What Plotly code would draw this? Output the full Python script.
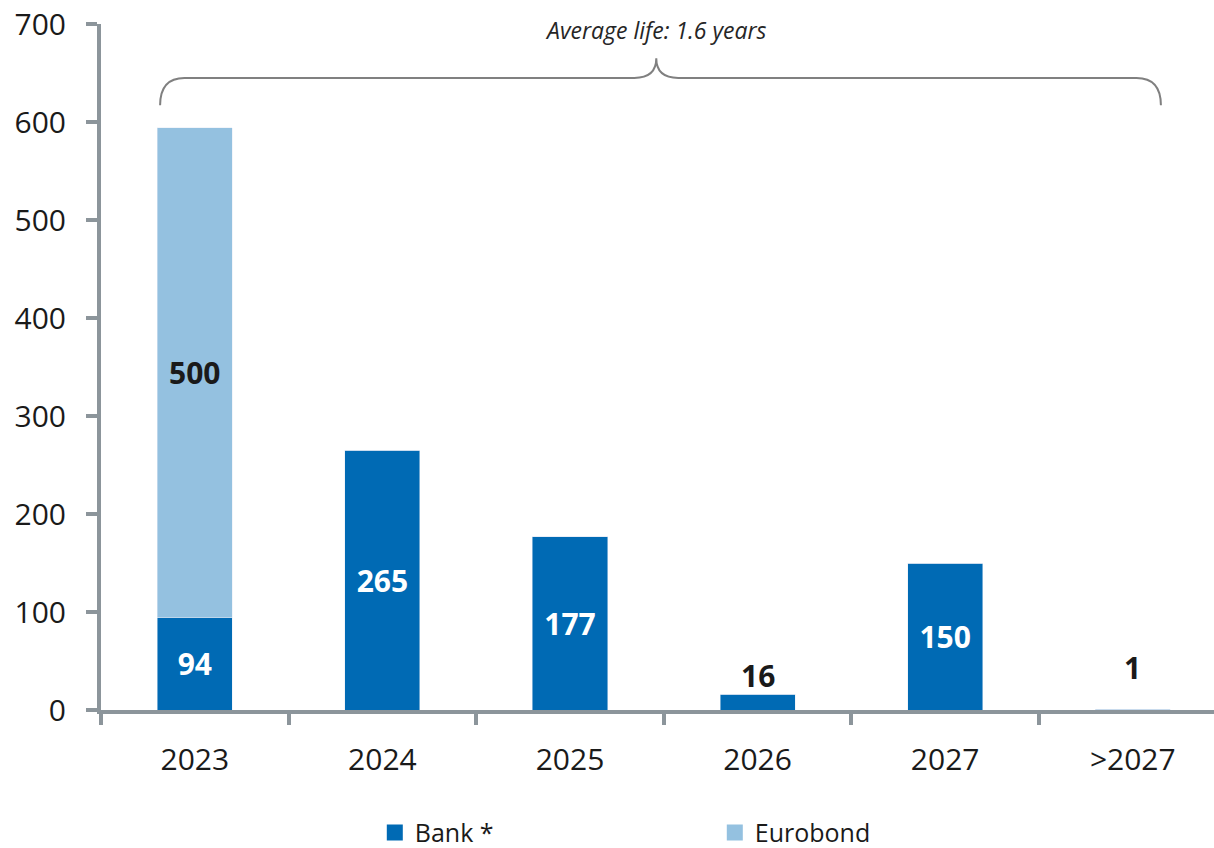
import plotly.graph_objects as go

# Debt maturity profile (EUR m)
categories = ["2023", "2024", "2025", "2026", "2027", ">2027"]
bank = [94, 265, 177, 16, 150, 1]
eurobond = [500, 0, 0, 0, 0, 0]
y_ticks = [0, 100, 200, 300, 400, 500, 600, 700]

BANK_COLOR = "#006ab4"
EURO_COLOR = "#94c1e0"
AXIS_COLOR = "#8c959b"
TEXT_COLOR = "#1a1a1a"
FONT = "Open Sans"

# Inside labels for tall bars, labels above for small ones
inside_min = 50
bank_text = [str(v) if v >= inside_min else "" for v in bank]
euro_text = [str(v) if v > 0 else "" for v in eurobond]

fig = go.Figure()
fig.add_trace(go.Bar(
    x=categories, y=bank, name="Bank *", marker_color=BANK_COLOR,
    width=0.4, text=bank_text, textposition="inside", insidetextanchor="middle",
    textfont=dict(family=FONT, size=30, color="white", weight="bold"),
    textangle=0, showlegend=False,
))
fig.add_trace(go.Bar(
    x=categories, y=eurobond, name="Eurobond", marker_color=EURO_COLOR,
    width=0.4, text=euro_text, textposition="inside", insidetextanchor="middle",
    textfont=dict(family=FONT, size=30, color=TEXT_COLOR, weight="bold"),
    textangle=0, showlegend=False,
))

# Legend entries with larger square swatches
for name, color in [("Bank *", BANK_COLOR), ("Eurobond", EURO_COLOR)]:
    fig.add_trace(go.Scatter(
        x=[None], y=[None], mode="markers", name=name,
        marker=dict(symbol="square", size=17, color=color),
    ))

# Value labels placed above the short bars
above_shift = {"2026": -4, ">2027": 19}
for i, (cat, b, e) in enumerate(zip(categories, bank, eurobond)):
    if b < inside_min and e == 0:
        fig.add_annotation(
            x=i, y=b, text=f"<b>{b}</b>", showarrow=False,
            yanchor="bottom", yshift=above_shift.get(cat, 0),
            font=dict(family=FONT, size=30, color=TEXT_COLOR),
        )

# Brace spanning all maturities, with its caption
X0, X1 = -0.5, 5.433
Y_MAX = 700


def px(xc):
    return (xc - X0) / (X1 - X0)


def py(yv):
    return yv / Y_MAX


left, right, mid = -0.185, 5.15, 2.46
y_base, y_line, y_peak = 617, 645, 665
r = 0.13
path = (
    f"M {px(left)},{py(y_base)} "
    f"Q {px(left)},{py(y_line)} {px(left + r)},{py(y_line)} "
    f"L {px(mid - r * 0.9)},{py(y_line)} "
    f"Q {px(mid)},{py(y_line)} {px(mid)},{py(y_peak)} "
    f"Q {px(mid)},{py(y_line)} {px(mid + r * 0.9)},{py(y_line)} "
    f"L {px(right - r)},{py(y_line)} "
    f"Q {px(right)},{py(y_line)} {px(right)},{py(y_base)}"
)
fig.add_shape(type="path", path=path, xref="paper", yref="paper",
              line=dict(color="#808080", width=2))
fig.add_annotation(
    x=px(mid), y=py(694), xref="paper", yref="paper",
    xanchor="center", yanchor="middle",
    text="<i>Average life: 1.6 years</i>", showarrow=False,
    font=dict(family=FONT, size=23, color="#262626"),
)

fig.update_layout(
    barmode="stack",
    width=1214, height=848,
    margin=dict(l=101, r=0, t=24, b=138, autoexpand=False),
    plot_bgcolor="white", paper_bgcolor="white",
    font=dict(family=FONT, size=30, color=TEXT_COLOR),
    showlegend=True,
    legend=dict(
        orientation="h", x=0.246, xanchor="left", y=-0.179, yanchor="middle",
        font=dict(family=FONT, size=25, color=TEXT_COLOR),
        entrywidth=295, entrywidthmode="pixels", itemwidth=30,
        traceorder="normal",
    ),
    xaxis=dict(
        type="category", range=[X0, X1],
        showline=True, linecolor=AXIS_COLOR, linewidth=4,
        ticks="outside", tickson="boundaries", ticklen=11, tickwidth=4,
        tickcolor=AXIS_COLOR, showgrid=False, ticklabelstandoff=20,
        tickfont=dict(family=FONT, size=30, color=TEXT_COLOR),
    ),
    yaxis=dict(
        range=[0, Y_MAX], tickvals=y_ticks,
        showline=True, linecolor=AXIS_COLOR, linewidth=4,
        ticks="outside", ticklen=11, tickwidth=4, tickcolor=AXIS_COLOR,
        showgrid=False, zeroline=False, ticklabelstandoff=14,
        tickfont=dict(family=FONT, size=30, color=TEXT_COLOR),
    ),
)

fig.write_html("out.html")
